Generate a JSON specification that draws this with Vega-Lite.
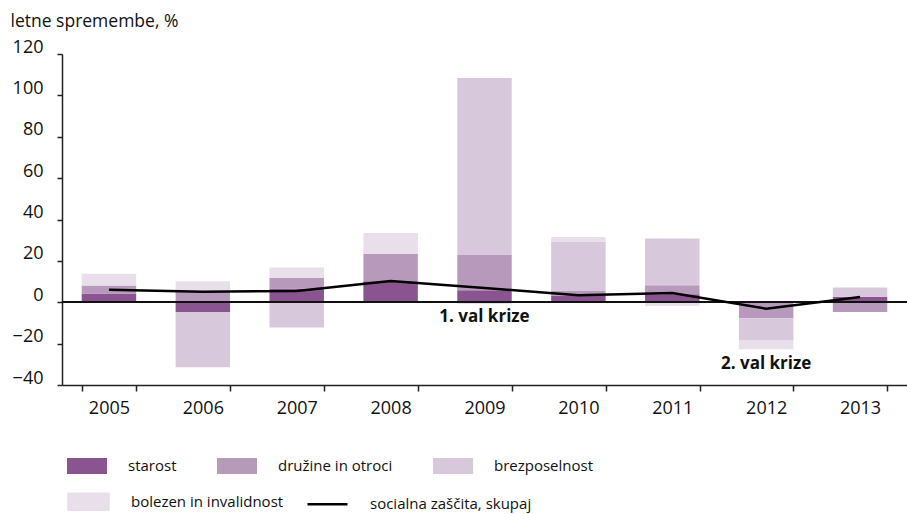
{
  "$schema": "https://vega.github.io/schema/vega-lite/v6.json",
  "width": 845,
  "height": 331,
  "autosize": {"type": "none"},
  "padding": {"left": 62, "top": 54, "right": 0, "bottom": 129},
  "background": "white",
  "config": {
    "font": "Open Sans",
    "view": {"stroke": null},
    "axis": {"labelFont": "Open Sans", "titleFont": "Open Sans", "domainColor": "#222222", "tickColor": "#222222", "domainWidth": 1.5, "tickWidth": 1.5, "labelColor": "#111111", "titleColor": "#111111", "grid": false},
    "legend": {"labelFont": "Open Sans", "labelFontSize": 15, "labelColor": "#111111", "labelLimit": 400, "symbolSize": 400, "labelOffset": 31, "orient": "none", "direction": "horizontal", "title": null}
  },
  "data": {
    "values": [
      {"leto": "2005", "serija": "starost", "vrednost": 4.2},
      {"leto": "2005", "serija": "družine in otroci", "vrednost": 3.9},
      {"leto": "2005", "serija": "bolezen in invalidnost", "vrednost": 5.7},
      {"leto": "2005", "serija": "socialna zaščita, skupaj", "vrednost": 6.0},
      {"leto": "2006", "serija": "starost", "vrednost": -4.7},
      {"leto": "2006", "serija": "družine in otroci", "vrednost": 5.0},
      {"leto": "2006", "serija": "brezposelnost", "vrednost": -26.7},
      {"leto": "2006", "serija": "bolezen in invalidnost", "vrednost": 5.2},
      {"leto": "2006", "serija": "socialna zaščita, skupaj", "vrednost": 5.1},
      {"leto": "2007", "serija": "starost", "vrednost": 6.6},
      {"leto": "2007", "serija": "družine in otroci", "vrednost": 5.2},
      {"leto": "2007", "serija": "brezposelnost", "vrednost": -12.2},
      {"leto": "2007", "serija": "bolezen in invalidnost", "vrednost": 5.0},
      {"leto": "2007", "serija": "socialna zaščita, skupaj", "vrednost": 5.4},
      {"leto": "2008", "serija": "starost", "vrednost": 10.2},
      {"leto": "2008", "serija": "družine in otroci", "vrednost": 13.2},
      {"leto": "2008", "serija": "bolezen in invalidnost", "vrednost": 10.1},
      {"leto": "2008", "serija": "socialna zaščita, skupaj", "vrednost": 10.3},
      {"leto": "2009", "serija": "starost", "vrednost": 5.8},
      {"leto": "2009", "serija": "družine in otroci", "vrednost": 17.3},
      {"leto": "2009", "serija": "brezposelnost", "vrednost": 85.3},
      {"leto": "2009", "serija": "bolezen in invalidnost", "vrednost": -0.8},
      {"leto": "2009", "serija": "socialna zaščita, skupaj", "vrednost": 6.9},
      {"leto": "2010", "serija": "starost", "vrednost": 3.3},
      {"leto": "2010", "serija": "družine in otroci", "vrednost": 2.4},
      {"leto": "2010", "serija": "brezposelnost", "vrednost": 23.7},
      {"leto": "2010", "serija": "bolezen in invalidnost", "vrednost": 2.1},
      {"leto": "2010", "serija": "socialna zaščita, skupaj", "vrednost": 3.4},
      {"leto": "2011", "serija": "starost", "vrednost": 3.9},
      {"leto": "2011", "serija": "družine in otroci", "vrednost": 4.3},
      {"leto": "2011", "serija": "brezposelnost", "vrednost": 22.6},
      {"leto": "2011", "serija": "bolezen in invalidnost", "vrednost": -1.8},
      {"leto": "2011", "serija": "socialna zaščita, skupaj", "vrednost": 4.5},
      {"leto": "2012", "serija": "starost", "vrednost": -0.4},
      {"leto": "2012", "serija": "družine in otroci", "vrednost": -7.3},
      {"leto": "2012", "serija": "brezposelnost", "vrednost": -10.5},
      {"leto": "2012", "serija": "bolezen in invalidnost", "vrednost": -4.5},
      {"leto": "2012", "serija": "socialna zaščita, skupaj", "vrednost": -3.1},
      {"leto": "2013", "serija": "starost", "vrednost": 2.6},
      {"leto": "2013", "serija": "družine in otroci", "vrednost": -4.7},
      {"leto": "2013", "serija": "brezposelnost", "vrednost": 4.5},
      {"leto": "2013", "serija": "socialna zaščita, skupaj", "vrednost": 2.5}
    ]
  },
  "layer": [
    {
      "transform": [
        {"filter": "datum.serija !== 'socialna zaščita, skupaj'"},
        {"calculate": "indexof(['starost','družine in otroci','brezposelnost','bolezen in invalidnost'], datum.serija)", "as": "red"}
      ],
      "mark": {"type": "bar"},
      "encoding": {
        "x": {"field": "leto", "type": "nominal", "scale": {"paddingInner": 0.42, "paddingOuter": 0.21},
          "axis": {"title": null, "labelAngle": 0, "tickBand": "extent", "tickSize": 6, "labelPadding": 8, "labelFontSize": 18}},
        "y": {"field": "vrednost", "type": "quantitative", "stack": "zero",
          "scale": {"domain": [-40, 120], "nice": false},
          "axis": {"values": [-40, -20, 0, 20, 40, 60, 80, 100, 120], "tickSize": 5, "labelPadding": 14, "labelFontSize": 18, "labelOffset": -7,
            "title": "letne spremembe, %", "titleAngle": 0, "titleAlign": "left", "titleBaseline": "alphabetic", "titleX": -52, "titleY": -28, "titleFontSize": 17.5, "titleFontWeight": "normal"}},
        "color": {"field": "serija", "type": "nominal",
          "scale": {"domain": ["starost", "družine in otroci", "brezposelnost", "bolezen in invalidnost"],
                    "range": ["#8a5490", "#b799bc", "#d8c8db", "#e8dfea"]},
          "legend": {"values": ["starost", "družine in otroci", "brezposelnost"], "legendX": 15, "legendY": 402,
            "columnPadding": 40, "symbolType": "M-2,-0.8H2V0.8H-2Z",
            "encode": {"symbols": {"update": {"shape": {"value": "M-2,-0.8H2V0.8H-2Z"}, "fill": {"scale": "color", "field": "value"}, "strokeWidth": {"value": 0}, "opacity": {"value": 1}}}}}},
        "order": {"field": "red", "type": "quantitative"}
      }
    },
    {
      "mark": {"type": "rule", "color": "#111111", "strokeWidth": 1.5},
      "encoding": {"y": {"datum": 0, "type": "quantitative"}}
    },
    {
      "transform": [{"filter": "datum.serija === 'socialna zaščita, skupaj'"}],
      "mark": {"type": "line", "strokeWidth": 2.5},
      "encoding": {
        "x": {"field": "leto", "type": "nominal"},
        "y": {"field": "vrednost", "type": "quantitative"},
        "stroke": {"field": "serija", "type": "nominal",
          "scale": {"domain": ["bolezen in invalidnost", "socialna zaščita, skupaj"], "range": ["#e8dfea", "#000000"]},
          "legend": {"legendX": 15, "legendY": 436, "columnPadding": 18,
            "encode": {"symbols": {"update": {
              "shape": [{"test": "datum.value === 'socialna zaščita, skupaj'", "value": "M-2,0H2"}, {"value": "M-2,-0.8H2V0.8H-2Z"}],
              "fill": [{"test": "datum.value === 'socialna zaščita, skupaj'", "value": "transparent"}, {"value": "#e8dfea"}],
              "stroke": [{"test": "datum.value === 'socialna zaščita, skupaj'", "value": "#000000"}, {"value": "transparent"}],
              "strokeWidth": {"value": 2.5},
              "opacity": {"value": 1}
            }}}}}
      }
    },
    {
      "data": {"values": [
        {"leto": "2009", "vrednost": -7, "besedilo": "1. val krize"},
        {"leto": "2012", "vrednost": -30, "besedilo": "2. val krize"}
      ]},
      "mark": {"type": "text", "fontWeight": "bold", "fontSize": 17, "font": "Open Sans", "color": "#111111"},
      "encoding": {
        "x": {"field": "leto", "type": "nominal"},
        "y": {"field": "vrednost", "type": "quantitative"},
        "text": {"field": "besedilo"}
      }
    }
  ]
}
